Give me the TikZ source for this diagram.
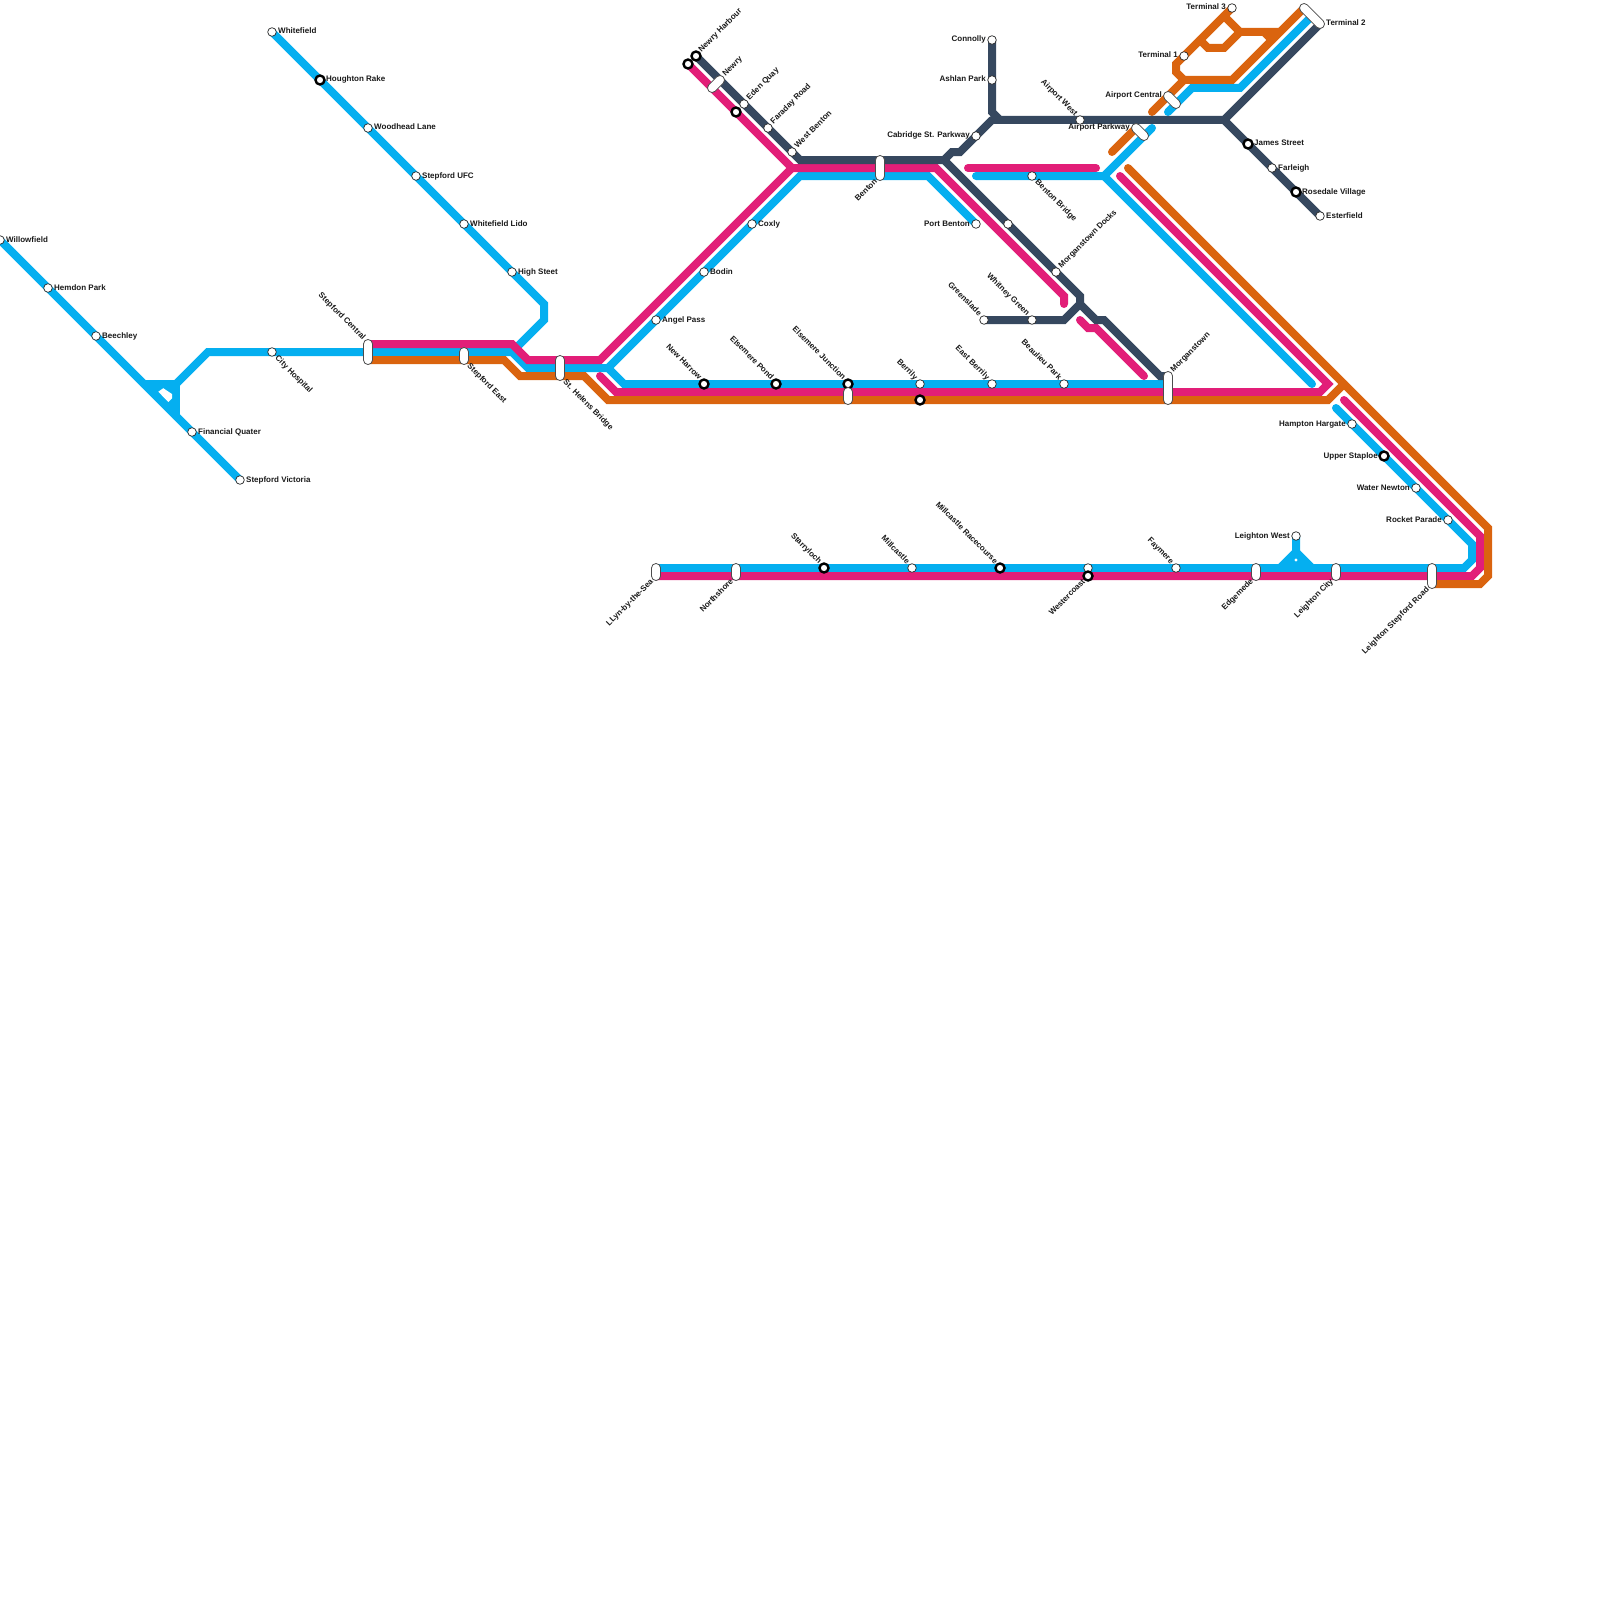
\documentclass[tikz,border=0pt]{standalone}
\usepackage{fontspec}
\setmainfont{Liberation Sans}
\usetikzlibrary{backgrounds}
\definecolor{lblue}{RGB}{5,175,240}
\definecolor{lpink}{RGB}{226,30,120}
\definecolor{lorange}{RGB}{218,100,15}
\definecolor{lslate}{RGB}{54,72,95}
\tikzset{
  metro/.style={line width=8pt,line cap=round,line join=miter,miter limit=4},
  bluel/.style={metro,draw=lblue},
  pinkl/.style={metro,draw=lpink},
  orangel/.style={metro,draw=lorange},
  slatel/.style={metro,draw=lslate},
  stn/.style={circle,draw=black!85,fill=white,line width=0.7pt,minimum size=8.6pt,inner sep=0pt},
  xchg/.style={circle,draw=black,fill=white,line width=2.4pt,minimum size=9pt,inner sep=0pt},
  capsule/.style={draw=black!70,fill=white,line width=0.8pt,rounded corners=4.4pt,minimum width=#1+1pt,minimum height=9pt,inner sep=0pt},
  txt/.style={inner sep=0pt,text=black!90,font=\fontsize{8}{9.6}\selectfont\bfseries},
  lblE/.style={txt,anchor=base west,xshift=6pt,yshift=-2pt},
  lblW/.style={txt,anchor=base east,xshift=-6pt,yshift=-2pt},
  lblNE/.style={txt,anchor=base west,xshift=5.5pt,yshift=3.6pt,rotate=45},
  lblSE/.style={txt,anchor=base west,xshift=2.7pt,yshift=-6.7pt,rotate=-45},
  lblNW/.style={txt,anchor=base east,xshift=-5.35pt,yshift=3.65pt,rotate=-45},
  lblSW/.style={txt,anchor=base east,xshift=-2.3pt,yshift=-6pt,rotate=45},
}
\begin{document}
\begin{tikzpicture}[x=1pt,y=-1pt]
\useasboundingbox (0,0) rectangle (1600,1600);
% ---- stations
\node[stn] (willow) at (0,240) {};
\node[stn] (hemdon) at (48,288) {};
\node[stn] (beech) at (96,336) {};
\node[stn] (finq) at (192,432) {};
\node[stn] (stvic) at (240,480) {};
\node[stn] (whitef) at (272,32) {};
\node[xchg] (hough) at (320,80) {};
\node[stn] (woodh) at (368,128) {};
\node[stn] (stufc) at (416,176) {};
\node[stn] (wlido) at (464,224) {};
\node[stn] (high) at (512,272) {};
\node[stn] (cityh) at (272,352) {};
\node[capsule=24pt,rotate=90] (stcen) at (368,352) {};
\node[capsule=16pt,rotate=90] (steast) at (464,356) {};
\node[capsule=24pt,rotate=90] (sthel) at (560,368) {};
\node[stn] (angel) at (656,320) {};
\node[stn] (bodin) at (704,272) {};
\node[stn] (coxly) at (752,224) {};
\node[xchg] (newh) at (696,56) {};
\node[xchg] (newhp) at (688,64) {};
\node[capsule=19.3pt,rotate=45] (newry) at (716,84) {};
\node[stn] (eden) at (744,104) {};
\node[xchg] (edenp) at (736,112) {};
\node[stn] (farad) at (768,128) {};
\node[stn] (wbent) at (792,152) {};
\node[capsule=24pt,rotate=90] (benton) at (880,168) {};
\node[stn] (pbent) at (976,224) {};
\node[stn] (conn) at (992,40) {};
\node[stn] (ashl) at (992,80) {};
\node[stn] (cabr) at (976,136) {};
\node[stn] (awest) at (1080,120) {};
\node[stn] (bbrid) at (1032,176) {};
\node[stn] (unnam) at (1008,224) {};
\node[stn] (mdock) at (1056,272) {};
\node[stn] (green) at (984,320) {};
\node[stn] (whit) at (1032,320) {};
\node[xchg] (nharr) at (704,384) {};
\node[xchg] (epond) at (776,384) {};
\node[xchg] (ejunc) at (848,384) {};
\node[capsule=16pt,rotate=90] (ejcap) at (848,396) {};
\node[stn] (berr) at (920,384) {};
\node[xchg] (berrb) at (920,400) {};
\node[stn] (eberr) at (992,384) {};
\node[stn] (beau) at (1064,384) {};
\node[capsule=32pt,rotate=90] (morg) at (1168,388) {};
\node[capsule=19.3pt,rotate=-45] (apark) at (1140,132) {};
\node[capsule=19.3pt,rotate=-45] (acent) at (1172,100) {};
\node[stn] (term1) at (1184,56) {};
\node[stn] (term3) at (1232,8) {};
\node[capsule=30.6pt,rotate=-45] (term2) at (1312,16) {};
\node[xchg] (james) at (1248,144) {};
\node[stn] (farl) at (1272,168) {};
\node[xchg] (rose) at (1296,192) {};
\node[stn] (ester) at (1320,216) {};
\node[stn] (hamp) at (1352,424) {};
\node[xchg] (upper) at (1384,456) {};
\node[stn] (water) at (1416,488) {};
\node[stn] (rocket) at (1448,520) {};
\node[stn] (lwest) at (1296,536) {};
\node[capsule=16pt,rotate=90] (llyn) at (656,572) {};
\node[capsule=16pt,rotate=90] (north) at (736,572) {};
\node[xchg] (starr) at (824,568) {};
\node[stn] (mill) at (912,568) {};
\node[xchg] (mrace) at (1000,568) {};
\node[stn] (westw) at (1088,568) {};
\node[xchg] (westb) at (1088,576) {};
\node[stn] (faym) at (1176,568) {};
\node[capsule=16pt,rotate=90] (edge) at (1256,572) {};
\node[capsule=16pt,rotate=90] (lcity) at (1336,572) {};
\node[capsule=24pt,rotate=90] (lstep) at (1432,576) {};
% ---- way points
\coordinate (bA) at (144,384);
\coordinate (bB) at (176,384);
\coordinate (bC) at (176,416);
\coordinate (bD) at (208,352);
\coordinate (bE) at (512,352);
\coordinate (bF) at (528,368);
\coordinate (bG) at (608,368);
\coordinate (bH) at (624,384);
\coordinate (bI) at (1168,384);
\coordinate (bJ) at (800,176);
\coordinate (bK) at (928,176);
\coordinate (bL) at (544,304);
\coordinate (bM) at (544,320);
\coordinate (bN) at (976,176);
\coordinate (bO) at (1104,176);
\coordinate (bP) at (1152,128);
\coordinate (bQ) at (1312,384);
\coordinate (bR) at (1168,112);
\coordinate (bS) at (1192,88);
\coordinate (bT) at (1240,88);
\coordinate (bU) at (1312,16);
\coordinate (bV) at (1336,408);
\coordinate (bW) at (1472,544);
\coordinate (bX) at (1472,560);
\coordinate (bY) at (1464,568);
\coordinate (bZ) at (656,568);
\coordinate (bt1) at (1296,552);
\coordinate (bt2) at (1280,568);
\coordinate (bt3) at (1312,568);
\coordinate (pA) at (368,344);
\coordinate (pB) at (512,344);
\coordinate (pC) at (528,360);
\coordinate (pD) at (600,360);
\coordinate (pE) at (792,168);
\coordinate (pF) at (936,168);
\coordinate (pG) at (1064,296);
\coordinate (pH) at (1064,304);
\coordinate (pI) at (600,376);
\coordinate (pJ) at (616,392);
\coordinate (pK) at (1320,392);
\coordinate (pL) at (1328,384);
\coordinate (pM) at (1120,176);
\coordinate (pN) at (968,168);
\coordinate (pO) at (1096,168);
\coordinate (pP) at (1344,400);
\coordinate (pQ) at (1480,536);
\coordinate (pR) at (1480,568);
\coordinate (pS) at (1472,576);
\coordinate (pT) at (656,576);
\coordinate (pU) at (1080,320);
\coordinate (pV) at (1088,328);
\coordinate (pX) at (1096,328);
\coordinate (pW) at (1144,376);
\coordinate (oA) at (368,360);
\coordinate (oB) at (504,360);
\coordinate (oC) at (520,376);
\coordinate (oD) at (584,376);
\coordinate (oE) at (608,400);
\coordinate (oF) at (1328,400);
\coordinate (oG) at (1344,384);
\coordinate (oH) at (1128,168);
\coordinate (oI) at (1488,528);
\coordinate (oJ) at (1488,576);
\coordinate (oK) at (1480,584);
\coordinate (oL) at (1432,584);
\coordinate (oM) at (1112,152);
\coordinate (oN) at (1136,128);
\coordinate (oO) at (1152,112);
\coordinate (oP) at (1184,80);
\coordinate (oQ) at (1232,80);
\coordinate (oR) at (1304,8);
\coordinate (oS) at (1176,72);
\coordinate (oT) at (1176,64);
\coordinate (oU) at (1224,16);
\coordinate (oV) at (1240,32);
\coordinate (oW) at (1280,32);
\coordinate (oX) at (1264,32);
\coordinate (oY) at (1272,40);
\coordinate (oZ) at (1200,40);
\coordinate (oa) at (1208,48);
\coordinate (ob) at (1224,48);
\coordinate (sA) at (800,160);
\coordinate (sB) at (944,160);
\coordinate (sC) at (1080,296);
\coordinate (sD) at (1080,304);
\coordinate (sE) at (1096,320);
\coordinate (sF) at (1104,320);
\coordinate (sG) at (1160,376);
\coordinate (sH) at (1168,376);
\coordinate (sI) at (1064,320);
\coordinate (sJ) at (952,152);
\coordinate (sK) at (960,152);
\coordinate (sL) at (992,120);
\coordinate (sM) at (992,112);
\coordinate (sN) at (1000,120);
\coordinate (sO) at (1224,120);
\coordinate (sP) at (1320,24);
% ---- lines, under the stations
\begin{scope}[on background layer]
  % blue
  \fill[lblue] (bA) -- (bB) -- (bC) -- cycle;
  \draw[bluel] (willow.center) -- (stvic.center);
  \draw[bluel] (bA) -- (bB) -- (bC);
  \draw[bluel] (bB) -- (bD) -- (bE) -- (bF) -- (bG) -- (bH) -- (bI);
  \draw[bluel] (bG) -- (bJ) -- (bK) -- (pbent.center);
  \draw[bluel] (whitef.center) -- (bL) -- (bM) -- (bE);
  \draw[bluel] (bN) -- (bO) -- (bP);
  \draw[bluel] (bO) -- (bQ);
  \draw[bluel] (bR) -- (bS) -- (bT) -- (bU);
  \draw[bluel] (bV) -- (bW) -- (bX) -- (bY) -- (bZ);
  \draw[bluel] (lwest.center) -- (bt1) -- (bt2);
  \draw[bluel] (bt1) -- (bt3);
  \fill[lblue] (bt1) -- (bt2) -- (bt3) -- cycle;
  \fill[white] (1296,560) circle (1.6);
  \fill[white] (158.3,391.7) -- (163.3,388.2) -- (172,394) -- (172,398.3) -- (168.3,402) -- cycle;
  % pink
  \draw[pinkl] (pA) -- (pB) -- (pC) -- (pD) -- (pE) -- (pF) -- (pG) -- (pH);
  \draw[pinkl] (newhp.center) -- (pE);
  \draw[pinkl] (pI) -- (pJ) -- (pK) -- (pL) -- (pM);
  \draw[pinkl] (pN) -- (pO);
  \draw[pinkl] (pP) -- (pQ) -- (pR) -- (pS) -- (pT);
  \draw[pinkl] (pU) -- (pV) -- (pX) -- (pW);
  % orange
  \draw[orangel] (oA) -- (oB) -- (oC) -- (oD) -- (oE) -- (oF) -- (oG);
  \draw[orangel] (oH) -- (oI) -- (oJ) -- (oK) -- (oL);
  \draw[orangel] (oM) -- (oN);
  \draw[orangel] (oO) -- (oP) -- (oQ) -- (oR);
  \draw[orangel] (oP) -- (oS) -- (oT) -- (term3.center);
  \draw[orangel] (oU) -- (oV) -- (oW);
  \draw[orangel] (oX) -- (oY);
  \draw[orangel] (oZ) -- (oa) -- (ob) -- (oV);
  % slate
  \draw[slatel] (newh.center) -- (sA) -- (sB) -- (sC) -- (sD) -- (sE) -- (sF) -- (sG) -- (sH);
  \draw[slatel] (green.center) -- (sI) -- (sD);
  \draw[slatel] (sB) -- (sJ) -- (sK) -- (sL);
  \draw[slatel] (conn.center) -- (sM) -- (sN) -- (sO) -- (sP);
  \draw[slatel] (sL) -- (sN);
  \draw[slatel] (sO) -- (ester.center);
\end{scope}
% ---- labels
\node[lblE] (t1) at (willow) {Willowfield};
\node[lblE] (t2) at (hemdon) {Hemdon Park};
\node[lblE] (t3) at (beech) {Beechley};
\node[lblE] (t4) at (finq) {Financial Quater};
\node[lblE] (t5) at (stvic) {Stepford Victoria};
\node[lblE] (t6) at (whitef) {Whitefield};
\node[lblE] (t7) at (hough) {Houghton Rake};
\node[lblE] (t8) at (woodh) {Woodhead Lane};
\node[lblE] (t9) at (stufc) {Stepford UFC};
\node[lblE] (t10) at (wlido) {Whitefield Lido};
\node[lblE] (t11) at (high) {High Steet};
\node[lblE] (t12) at (angel) {Angel Pass};
\node[lblE] (t13) at (bodin) {Bodin};
\node[lblE] (t14) at (coxly) {Coxly};
\node[lblE] (t15) at (james) {James Street};
\node[lblE] (t16) at (farl) {Farleigh};
\node[lblE] (t17) at (rose) {Rosedale Village};
\node[lblE] (t18) at (ester) {Esterfield};
\node[lblE] (t19) at (1320,24) {Terminal 2};
\node[lblW] (t20) at (conn) {Connolly};
\node[lblW] (t21) at (ashl) {Ashlan Park};
\node[lblW] (t22) at (cabr) {Cabridge St. Parkway};
\node[lblW] (t23) at (pbent) {Port Benton};
\node[lblW] (t24) at (1168,96) {Airport Central};
\node[lblW] (t25) at (1136,128) {Airport Parkway};
\node[lblW] (t26) at (term1) {Terminal 1};
\node[lblW] (t27) at (term3) {Terminal 3};
\node[lblW] (t28) at (lwest) {Leighton West};
\node[lblW] (t29) at (hamp) {Hampton Hargate};
\node[lblW] (t30) at (upper) {Upper Staploe};
\node[lblW] (t31) at (water) {Water Newton};
\node[lblW] (t32) at (rocket) {Rocket Parade};
\node[lblSE] (t33) at (cityh) {City Hospital};
\node[lblSE] (t34) at (464,360) {Stepford East};
\node[lblSE] (t35) at (560,376) {St. Helens Bridge};
\node[lblSE] (t36) at (bbrid) {Benton Bridge};
\node[lblNE] (t37) at (newh) {Newry Harbour};
\node[lblNE] (t38) at (720,80) {Newry};
\node[lblNE] (t39) at (eden) {Eden Quay};
\node[lblNE] (t40) at (farad) {Faraday Road};
\node[lblNE] (t41) at (wbent) {West Benton};
\node[lblNE] (t42) at (mdock) {Morganstown Docks};
\node[lblNE] (t43) at (1168,376) {Morganstown};
\node[lblNW] (t44) at (368,344) {Stepford Central};
\node[lblNW] (t45) at (nharr) {New Harrow};
\node[lblNW] (t46) at (epond) {Elsemere Pond};
\node[lblNW] (t47) at (ejunc) {Elsemere Junction};
\node[lblNW] (t48) at (berr) {Berrily};
\node[lblNW] (t49) at (eberr) {East Berrily};
\node[lblNW] (t50) at (beau) {Beaulieu Park};
\node[lblNW] (t51) at (green) {Greenslade};
\node[lblNW] (t52) at (whit) {Whitney Green};
\node[lblNW] (t53) at (awest) {Airport West};
\node[lblNW] (t54) at (starr) {Starryloch};
\node[lblNW] (t55) at (mill) {Millcastle};
\node[lblNW] (t56) at (mrace) {Millcastle Racecourse};
\node[lblNW] (t57) at (faym) {Faymere};
\node[lblSW] (t58) at (880,176) {Benton};
\node[lblSW] (t59) at (656,576) {LLyn-by-the-Sea};
\node[lblSW] (t60) at (736,576) {Northshore};
\node[lblSW] (t61) at (westb) {Westercoast};
\node[lblSW] (t62) at (1256,576) {Edgemede};
\node[lblSW] (t63) at (1336,576) {Leighton City};
\node[lblSW] (t64) at (1432,584) {Leighton Stepford Road};
\end{tikzpicture}
\end{document}
